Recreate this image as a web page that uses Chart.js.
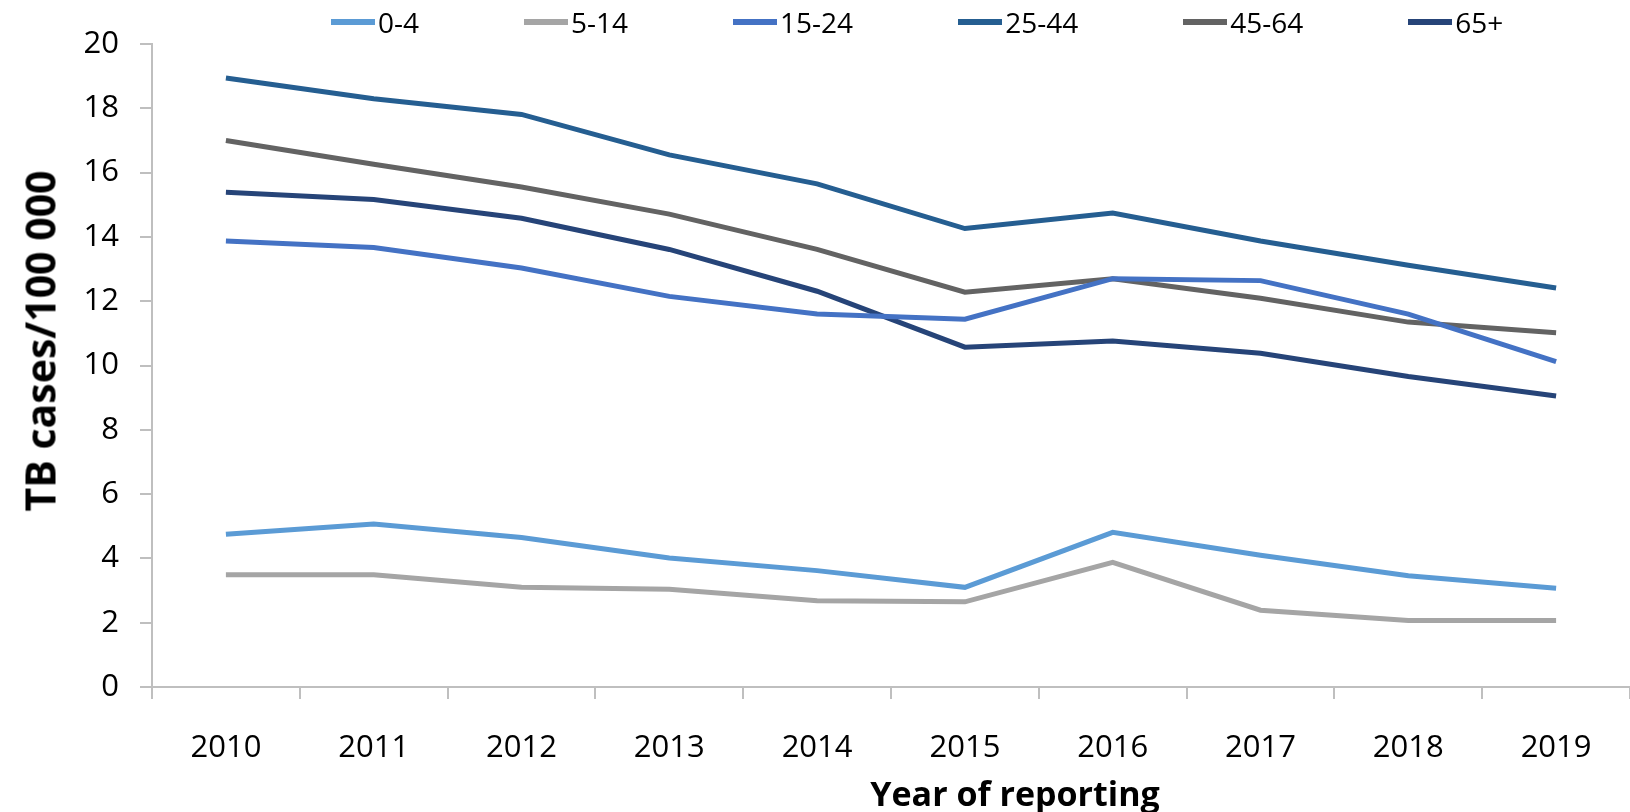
<!DOCTYPE html>
<html>
<head>
<meta charset="utf-8">
<script src="https://cdn.jsdelivr.net/npm/chart.js@4/dist/chart.umd.min.js"></script>
<style>
  html, body { margin: 0; padding: 0; background: #ffffff; }
  #wrap { position: relative; width: 1630px; height: 812px; overflow: hidden; }
  #legend { position: absolute; top: 4px; left: 331px; display: flex; align-items: center; gap: 105px;
            font-family: "Open Sans", sans-serif; font-size: 28px; color: #000; line-height: 36px; }
  .item { display: flex; align-items: center; white-space: nowrap; }
  .swatch { display: inline-block; width: 44px; height: 6px; margin-right: 3px; }
  #xtitle { position: absolute; left: 1015px; top: 793px; transform: translate(-50%, -50%);
            font-family: "Open Sans", sans-serif; font-weight: bold; font-size: 34px; line-height: 1; color: #000; white-space: nowrap; }
  #ytitle { position: absolute; left: 40px; top: 341px; transform: translate(-50%, -50%) rotate(-90deg);
            font-family: "Open Sans", sans-serif; font-weight: bold; font-size: 41px; line-height: 1; color: #000; white-space: nowrap; }
</style>
</head>
<body>
<div id="wrap">
  <canvas id="c" width="1630" height="812"></canvas>
  <div id="legend"></div>
  <div id="xtitle"></div>
  <div id="ytitle"></div>
</div>
<script>
const years = ["2010","2011","2012","2013","2014","2015","2016","2017","2018","2019"];
const seriesNames = ["0-4","5-14","15-24","25-44","45-64","65+"];
const seriesColors = ["#5B9BD5","#A5A5A5","#4472C4","#255E91","#636363","#264478"];

const age0_4   = [4.75, 5.07, 4.65, 4.01, 3.62, 3.10, 4.81, 4.10, 3.46, 3.07];
const age5_14  = [3.49, 3.49, 3.10, 3.04, 2.68, 2.65, 3.88, 2.39, 2.07, 2.07];
const age15_24 = [13.87, 13.67, 13.03, 12.15, 11.60, 11.44, 12.70, 12.64, 11.60, 10.12];
const age25_44 = [18.94, 18.30, 17.81, 16.55, 15.65, 14.26, 14.74, 13.87, 13.12, 12.41];
const age45_64 = [17.00, 16.26, 15.55, 14.71, 13.61, 12.28, 12.70, 12.09, 11.35, 11.02];
const age65p   = [15.39, 15.16, 14.58, 13.61, 12.31, 10.57, 10.76, 10.38, 9.66, 9.05];

const yMin = 0, yMax = 20, yStep = 2;
const xTitle = "Year of reporting";
const yTitle = "TB cases/100 000";

const seriesValues = [age0_4, age5_14, age15_24, age25_44, age45_64, age65p];

const datasets = seriesNames.map((name, i) => ({
  label: name,
  data: seriesValues[i],
  borderColor: seriesColors[i],
  backgroundColor: seriesColors[i],
  borderWidth: 5,
  pointRadius: 0,
  tension: 0,
  fill: false
}));

// HTML legend and axis titles built from the arrays/strings above
const legendEl = document.getElementById('legend');
seriesNames.forEach((name, i) => {
  const it = document.createElement('span');
  it.className = 'item';
  const sw = document.createElement('span');
  sw.className = 'swatch';
  sw.style.background = seriesColors[i];
  const tx = document.createElement('span');
  tx.textContent = name;
  it.appendChild(sw); it.appendChild(tx);
  legendEl.appendChild(it);
});
document.getElementById('xtitle').textContent = xTitle;
document.getElementById('ytitle').textContent = yTitle;

const axisGray = '#BFBFBF';

new Chart(document.getElementById('c'), {
  type: 'line',
  data: { labels: years, datasets: datasets },
  options: {
    responsive: false,
    animation: false,
    layout: { padding: { top: 44, right: -22, left: 0, bottom: 0 } },
    plugins: { legend: { display: false }, tooltip: { enabled: false } },
    scales: {
      x: {
        offset: true,
        grid: { offset: true, drawOnChartArea: false, drawTicks: true, tickLength: 12, color: axisGray, lineWidth: 2 },
        border: { display: true, color: axisGray, width: 2 },
        ticks: { color: '#000', padding: 31, maxRotation: 0, font: { family: 'Open Sans', size: 31 } },
        title: { display: false },
        afterFit: (s) => { s.height = 125; }
      },
      y: {
        min: yMin, max: yMax,
        grid: { drawOnChartArea: false, drawTicks: true, tickLength: 12, color: axisGray, lineWidth: 2 },
        border: { display: true, color: axisGray, width: 2 },
        ticks: { stepSize: yStep, color: '#000', padding: 21, font: { family: 'Open Sans', size: 31 } },
        title: { display: false },
        afterFit: (s) => { s.width = 152; }
      }
    }
  }
});
</script>
</body>
</html>
